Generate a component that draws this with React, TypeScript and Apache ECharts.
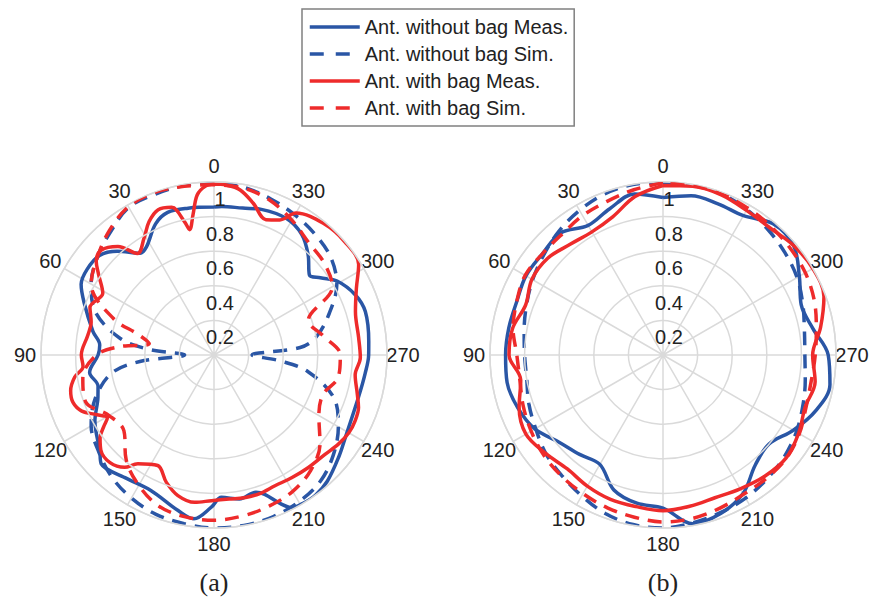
import React, { useEffect, useRef } from 'react';
import * as echarts from 'echarts';

// ---- data ----
const NAMES = [
  'Ant. without bag Meas.',
  'Ant. without bag Sim.',
  'Ant. with bag Meas.',
  'Ant. with bag Sim.',
];

const ANGLE_TICKS = [0, 30, 60, 90, 120, 150, 180, 210, 240, 270, 300, 330];

const GRID10 = [0, 10, 20, 30, 40, 50, 60, 70, 80, 90, 100, 110, 120, 130, 140, 150, 160, 170,
  180, 190, 200, 210, 220, 230, 240, 250, 260, 270, 280, 290, 300, 310, 320, 330, 340, 350];

// (a) antenna
const aBlueMeasAngles = [0, 10, 18, 24, 32, 36, 43, 49, 56, 62, 68, 79, 85, 90, 98, 105, 110, 119,
  130, 134, 144, 155, 167, 173, 179, 183, 190, 197, 200, 204, 207, 211, 216, 222, 231, 238, 254,
  263, 270, 275, 286, 293, 301, 306, 310, 317, 324, 332, 342, 349, 357];
const aBlueMeasR = [0.855, 0.862, 0.867, 0.83, 0.737, 0.727, 0.82, 0.877, 0.885, 0.87, 0.81, 0.713,
  0.663, 0.67, 0.726, 0.694, 0.714, 0.787, 0.862, 0.906, 0.876, 0.864, 0.923, 0.954, 0.88, 0.824,
  0.845, 0.829, 0.857, 0.939, 0.99, 1.0, 1.0, 0.98, 0.93, 0.896, 0.87, 0.88, 0.894, 0.898, 0.91,
  0.888, 0.83, 0.76, 0.72, 0.797, 0.862, 0.893, 0.885, 0.865, 0.86];

const aBlueSimAngles = [0, 10, 20, 30, 40, 50, 60, 70, 80, 85, 90, 95, 100, 110, 120, 130, 140,
  150, 160, 170, 180, 190, 200, 210, 220, 230, 240, 250, 260, 265, 270, 275, 280, 290, 300, 310,
  320, 330, 340, 350];
const aBlueSimR = [1.0, 0.995, 0.99, 0.985, 0.93, 0.88, 0.82, 0.73, 0.55, 0.38, 0.17, 0.43, 0.6,
  0.73, 0.82, 0.87, 0.92, 0.955, 0.98, 0.99, 1.0, 1.0, 0.995, 0.98, 0.955, 0.9, 0.83, 0.74, 0.55,
  0.38, 0.22, 0.5, 0.6, 0.71, 0.82, 0.88, 0.91, 0.935, 0.96, 0.985];

const aRedMeasAngles = [0, 3, 6, 8.5, 11, 12.5, 16, 21, 26, 31, 37, 41.5, 47, 51.5, 55, 61, 69, 75,
  81, 90, 95, 99, 104, 108.6, 113, 117, 120.5, 123, 126, 130, 136, 141.5, 145, 153, 159.5, 165.6,
  172.5, 179, 186, 192, 198, 205, 212.5, 220, 228, 234.5, 240, 245, 250, 255, 262, 269, 277, 287,
  295, 302, 311, 320, 330, 334, 339, 345.5, 351, 356];
const aRedMeasR = [0.988, 0.976, 0.93, 0.82, 0.738, 0.79, 0.888, 0.9, 0.857, 0.786, 0.735, 0.838,
  0.89, 0.87, 0.815, 0.735, 0.768, 0.735, 0.738, 0.767, 0.76, 0.815, 0.854, 0.86, 0.83, 0.76,
  0.715, 0.76, 0.814, 0.854, 0.865, 0.83, 0.768, 0.717, 0.786, 0.839, 0.859, 0.842, 0.837, 0.843,
  0.844, 0.834, 0.84, 0.849, 0.861, 0.885, 0.9, 0.9, 0.889, 0.857, 0.824, 0.846, 0.842, 0.855,
  0.908, 0.986, 1.0, 0.99, 0.948, 0.869, 0.838, 0.906, 0.966, 0.985];

const aRedSimAngles = [0, 10, 20, 30, 40, 50, 60, 70, 75, 80, 85, 90, 100, 110, 120, 130, 140, 150,
  160, 170, 180, 190, 200, 210, 220, 230, 240, 250, 260, 270, 280, 290, 300, 310, 320, 330, 340,
  350];
const aRedSimR = [0.985, 0.99, 1.0, 0.99, 0.94, 0.88, 0.82, 0.62, 0.45, 0.38, 0.55, 0.68, 0.77,
  0.79, 0.7, 0.68, 0.79, 0.87, 0.93, 0.95, 0.955, 0.945, 0.93, 0.91, 0.87, 0.8, 0.7, 0.67, 0.73,
  0.73, 0.64, 0.58, 0.79, 0.83, 0.85, 0.9, 0.95, 0.98];

// (b) antenna
const bBlueMeasR = [0.91, 0.945, 0.9, 0.865, 0.92, 0.91, 0.915, 0.9, 0.905, 0.91, 0.915, 0.893,
  0.855, 0.784, 0.75, 0.73, 0.83, 0.87, 0.885, 0.99, 0.975, 0.925, 0.83, 0.8, 0.87, 0.94, 0.98,
  0.955, 0.88, 0.85, 0.91, 0.985, 0.99, 0.93, 0.93, 0.935];

const bBlueSimR = [1.0, 1.0, 0.99, 0.965, 0.935, 0.9, 0.87, 0.84, 0.815, 0.8, 0.8, 0.825, 0.85,
  0.885, 0.91, 0.94, 0.975, 0.995, 1.0, 0.985, 0.97, 0.955, 0.935, 0.915, 0.89, 0.86, 0.835,
  0.82, 0.83, 0.86, 0.895, 0.92, 0.945, 0.97, 0.99, 1.0];

const bRedMeasR = [0.98, 0.93, 0.85, 0.822, 0.835, 0.87, 0.875, 0.845, 0.883, 0.89, 0.835, 0.885,
  0.915, 0.885, 0.86, 0.875, 0.888, 0.89, 0.9, 0.888, 0.878, 0.893, 0.915, 0.928, 0.905, 0.875,
  0.893, 0.865, 0.925, 0.99, 1.0, 0.985, 0.96, 0.965, 0.985, 0.99];

const bRedSimR = [0.995, 0.97, 0.945, 0.93, 0.91, 0.91, 0.92, 0.9, 0.88, 0.845, 0.84, 0.86, 0.88,
  0.9, 0.913, 0.925, 0.94, 0.952, 0.965, 0.96, 0.945, 0.93, 0.93, 0.93, 0.91, 0.88, 0.87, 0.88,
  0.9, 0.93, 0.95, 0.96, 0.97, 0.98, 0.99, 0.995];

const CAPTIONS = ['(a)', '(b)'];

// ---- styling ----
const BLUE = '#2a56a5';
const RED = '#ee2b2b';
const GRID = '#dadada';
const TEXT = '#222222';
const SANS = '"Liberation Sans", Arial, sans-serif';
const DASH = [14, 9];
const LEGEND_DASH = [14, 12];
const CENTERS = [[214, 355], [663, 355]];
const RADIUS = 173;
const LABEL_OFFSET = 16;

function closed(angles: number[], rs: number[]) {
  const d = angles.map((a, i) => [rs[i], a]);
  d.push([rs[0], 360]);
  return d;
}

function makeSeries(polarIndex: number, name: string, color: string, dashed: boolean, data: number[][], z: number) {
  return {
    type: 'line',
    name,
    coordinateSystem: 'polar',
    polarIndex,
    data,
    smooth: 0.35,
    symbol: 'none',
    clip: false,
    z,
    lineStyle: { color, width: 3.5, type: dashed ? DASH : 'solid', cap: 'butt' },
    itemStyle: { color },
  };
}

export default function App() {
  const ref = useRef<HTMLDivElement>(null);
  useEffect(() => {
    if (!ref.current) return;
    const chart = echarts.init(ref.current, null, { renderer: 'svg' });
    const polar = CENTERS.map((c) => ({ center: c, radius: RADIUS }));
    const angleAxis = CENTERS.map((_, i) => ({
      polarIndex: i,
      type: 'value',
      min: 0,
      max: 360,
      interval: 30,
      startAngle: 90,
      clockwise: false,
      axisLine: { show: true, lineStyle: { color: GRID, width: 1.5 } },
      axisTick: { show: false },
      splitLine: { show: true, lineStyle: { color: GRID, width: 1.5 } },
      axisLabel: { show: false },
    }));
    const radiusAxis = CENTERS.map((_, i) => ({
      polarIndex: i,
      type: 'value',
      min: 0,
      max: 1,
      interval: 0.2,
      axisLine: { show: false },
      axisTick: { show: false },
      splitLine: { show: true, lineStyle: { color: GRID, width: 1.5 } },
      axisLabel: {
        show: true,
        margin: -6,
        align: 'center',
        verticalAlign: 'top',
        lineHeight: 34,
        fontSize: 20,
        fontFamily: SANS,
        color: TEXT,
        formatter: (v: number) => (v === 0 ? '' : String(Math.round(v * 10) / 10)),
      },
      z: 5,
    }));
    const series = [
      makeSeries(0, NAMES[0], BLUE, false, closed(aBlueMeasAngles, aBlueMeasR), 2),
      makeSeries(0, NAMES[1], BLUE, true, closed(aBlueSimAngles, aBlueSimR), 3),
      makeSeries(0, NAMES[2], RED, false, closed(aRedMeasAngles, aRedMeasR), 4),
      makeSeries(0, NAMES[3], RED, true, closed(aRedSimAngles, aRedSimR), 5),
      makeSeries(1, NAMES[0], BLUE, false, closed(GRID10, bBlueMeasR), 2),
      makeSeries(1, NAMES[1], BLUE, true, closed(GRID10, bBlueSimR), 3),
      makeSeries(1, NAMES[2], RED, false, closed(GRID10, bRedMeasR), 4),
      makeSeries(1, NAMES[3], RED, true, closed(GRID10, bRedSimR), 5),
    ];
    // angle tick labels, centred on a ring just outside each polar plot
    const angleLabels: any[] = [];
    CENTERS.forEach(([cx, cy]) => {
      ANGLE_TICKS.forEach((t) => {
        const rad = (t * Math.PI) / 180;
        const rl = RADIUS + LABEL_OFFSET;
        angleLabels.push({
          type: 'text',
          x: cx - rl * Math.sin(rad),
          y: cy - rl * Math.cos(rad),
          style: {
            text: String(t),
            font: `20px ${SANS}`,
            fill: TEXT,
            textAlign: 'center',
            textVerticalAlign: 'middle',
          },
        });
      });
    });
    chart.setOption({
      animation: false,
      backgroundColor: '#ffffff',
      polar,
      angleAxis,
      radiusAxis,
      legend: {
        data: NAMES.map((n, i) => (i % 2 === 1 ? { name: n, lineStyle: { type: LEGEND_DASH } } : { name: n })),
        orient: 'vertical',
        left: 302,
        top: 9,
        itemWidth: 50,
        itemHeight: 20,
        itemGap: 7,
        padding: [8, 6, 8, 6],
        borderColor: '#808080',
        borderWidth: 1.5,
        backgroundColor: '#ffffff',
        selectedMode: false,
        itemStyle: { color: 'rgba(0,0,0,0)', borderWidth: 0, opacity: 0 },
        lineStyle: { width: 'inherit' },
        textStyle: { fontSize: 20, fontFamily: SANS, color: TEXT, lineHeight: 20 },
      },
      graphic: [
        ...angleLabels,
        ...CAPTIONS.map((t, i) => ({
          type: 'text',
          x: CENTERS[i][0],
          y: 582,
          style: {
            text: t,
            font: '26px "Liberation Serif", "Times New Roman", serif',
            fill: TEXT,
            textAlign: 'center',
            textVerticalAlign: 'middle',
          },
        })),
      ],
      series,
    });
    return () => chart.dispose();
  }, []);
  return (
    <div
      ref={ref}
      style={{ position: 'fixed', left: 0, top: 0, width: 874, height: 608, background: '#fff' }}
    />
  );
}
